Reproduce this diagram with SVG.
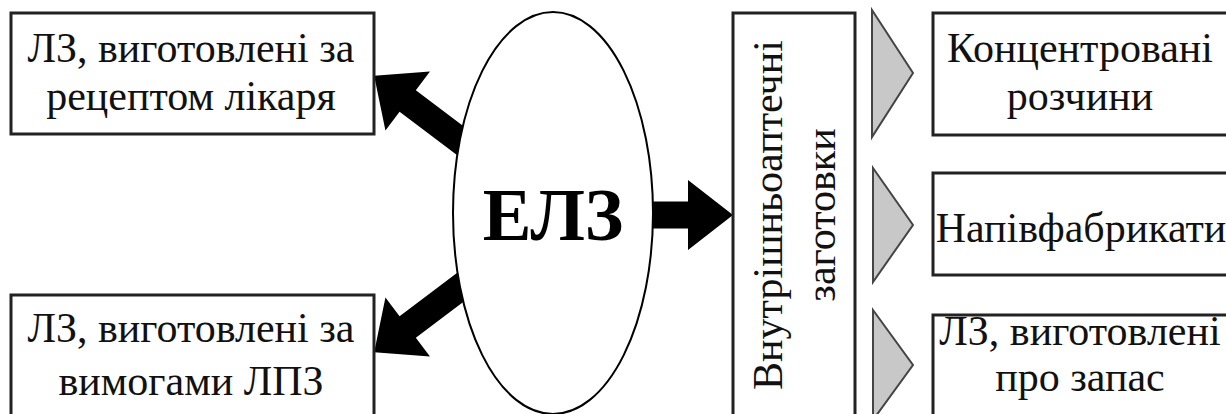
<svg xmlns="http://www.w3.org/2000/svg" width="1226" height="414" viewBox="0 0 1226 414">
<style>
.box{fill:#fff;stroke:#222;stroke-width:3}
.t{font-family:"Liberation Serif","Times New Roman",serif;font-size:42px;fill:#111;text-anchor:middle}
.big{font-family:"Liberation Serif","Times New Roman",serif;font-size:73px;font-weight:bold;fill:#000;text-anchor:middle}
.arr{fill:#000}
.tri{fill:#c8c8c8;stroke:#444;stroke-width:2}
</style>
<defs>
<path id="a118" d="M0,-13.5 L78,-13.5 L78,-37 L120,0 L78,37 L78,13.5 L0,13.5 Z"/>
<path id="a93" d="M0,-13.5 L48,-13.5 L48,-35 L93,0 L48,35 L48,13.5 L0,13.5 Z"/>
</defs>
<rect width="1226" height="414" fill="#fff"/>
<g id="connectors">
<use href="#a118" class="arr" transform="translate(470,148) rotate(217)"/>
<use href="#a118" class="arr" transform="translate(470,280) rotate(143)"/>
<use href="#a93" class="arr" transform="translate(640,215)"/>
<polygon class="tri" points="872,10 913,73 872,137"/>
<polygon class="tri" points="873,168 913,225 873,282"/>
<polygon class="tri" points="873,310 913,365 873,420"/>
</g>
<g id="node-elz">
<ellipse cx="553" cy="213" rx="100" ry="201" fill="#fff" stroke="#000" stroke-width="2"/>
<text class="big" x="553" y="240">ЕЛЗ</text>
</g>
<g id="node-recipe">
<rect class="box" x="11" y="13" width="363" height="121"/>
<text class="t" x="191" y="62">ЛЗ, виготовлені за</text>
<text class="t" x="191" y="110">рецептом лікаря</text>
</g>
<g id="node-lpz">
<rect class="box" x="11" y="295" width="363" height="130"/>
<text class="t" x="191" y="342">ЛЗ, виготовлені за</text>
<text class="t" x="191" y="395">вимогами ЛПЗ</text>
</g>
<g id="node-internal">
<rect class="box" x="733" y="13" width="122" height="412"/>
<text class="t" transform="translate(782,215) rotate(-90)" x="0" y="0">Внутрішньоаптечні</text>
<text class="t" transform="translate(835,215) rotate(-90)" x="0" y="0">заготовки</text>
</g>
<g id="node-conc">
<rect class="box" x="933" y="13" width="296" height="122"/>
<text class="t" x="1080" y="62">Концентровані</text>
<text class="t" x="1080" y="110">розчини</text>
</g>
<g id="node-semi">
<rect class="box" x="933" y="173" width="296" height="102"/>
<text class="t" x="1081" y="242">Напівфабрикати</text>
</g>
<g id="node-stock">
<rect class="box" x="933" y="315" width="296" height="110"/>
<text class="t" x="1080" y="345">ЛЗ, виготовлені</text>
<text class="t" x="1080" y="391">про запас</text>
</g>
</svg>
